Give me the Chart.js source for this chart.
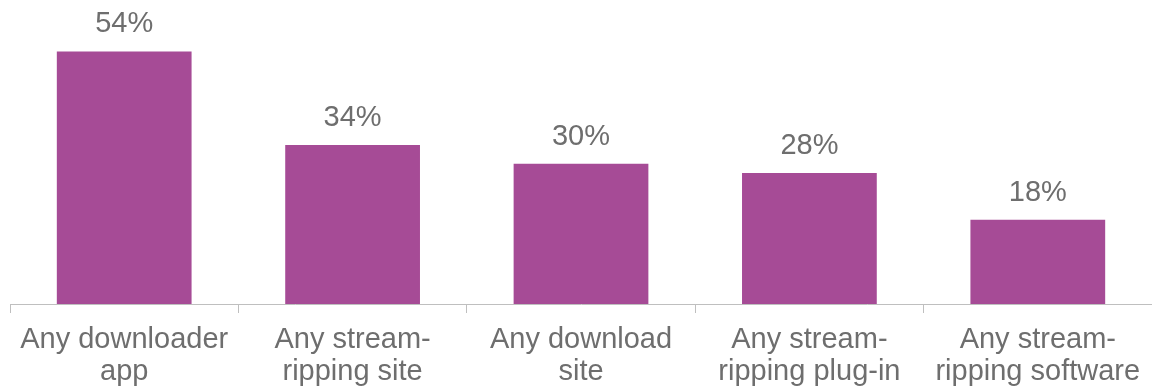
<!DOCTYPE html>
<html>
<head>
<meta charset="utf-8">
<script src="https://cdn.jsdelivr.net/npm/chart.js@4/dist/chart.umd.min.js"></script>
<style>
  html, body { margin: 0; padding: 0; background: #fff; }
  #wrap { width: 1152px; height: 390px; position: relative; }
</style>
</head>
<body>
<div id="wrap"><canvas id="mycanvas"></canvas></div>
<script>
// categories and share of respondents (%)
var categories = [
  ["Any downloader", "app"],
  ["Any stream-", "ripping site"],
  ["Any download", "site"],
  ["Any stream-", "ripping plug-in"],
  ["Any stream-", "ripping software"]
];
var values = [54, 34, 30, 28, 18];

var barColor = "#A64B96";
var textColor = "#6E6E6E";
var axisColor = "#BFBFBF";
var fontFamily = "'Liberation Sans', Arial, sans-serif";

// value labels above each bar
var valueLabels = {
  id: "valueLabels",
  afterDatasetsDraw: function(chart) {
    var ctx = chart.ctx;
    var meta = chart.getDatasetMeta(0);
    ctx.save();
    ctx.font = "29px " + fontFamily;
    ctx.fillStyle = textColor;
    ctx.textAlign = "center";
    ctx.textBaseline = "alphabetic";
    meta.data.forEach(function(bar, i) {
      ctx.fillText(values[i] + "%", bar.x, bar.y - 19);
    });
    ctx.restore();
  }
};

var ctx = document.getElementById("mycanvas");
var barGraph = new Chart(ctx, {
  type: "bar",
  data: {
    labels: categories,
    datasets: [{
      data: values,
      backgroundColor: barColor,
      borderWidth: 0,
      categoryPercentage: 1,
      barPercentage: 0.59
    }]
  },
  options: {
    responsive: true,
    maintainAspectRatio: false,
    animation: false,
    layout: { padding: { left: 10, right: 0, top: 0, bottom: 0 } },
    plugins: {
      legend: { display: false },
      tooltip: { enabled: false }
    },
    scales: {
      x: {
        offset: true,
        afterFit: function(scale) { scale.height = 86; },
        grid: {
          offset: true,
          drawOnChartArea: false,
          color: axisColor,
          tickLength: 9
        },
        border: { color: axisColor, width: 1 },
        ticks: {
          color: textColor,
          padding: 11,
          maxRotation: 0,
          autoSkip: false,
          font: { family: fontFamily, size: 29, lineHeight: 1.1 }
        }
      },
      y: {
        display: false,
        min: 0,
        max: 65
      }
    }
  },
  plugins: [valueLabels]
});
</script>
</body>
</html>
